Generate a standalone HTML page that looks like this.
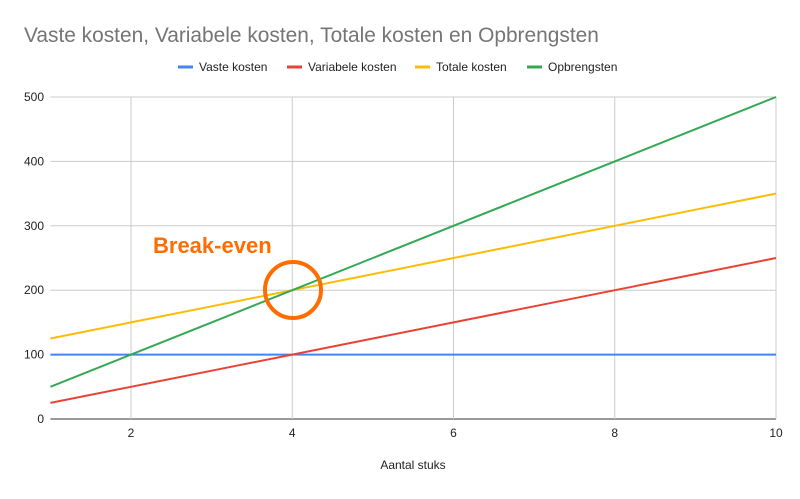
<!DOCTYPE html>
<html><head><meta charset="utf-8"><style>
body{margin:0;background:#fff;font-family:"Liberation Sans",Arial,sans-serif}
</style></head><body>
<svg id="chart" width="800" height="494" xmlns="http://www.w3.org/2000/svg">
<rect width="800" height="494" fill="#fff"/>
<text x="24" y="42" font-size="20.9" fill="#757575">Vaste kosten, Variabele kosten, Totale kosten en Opbrengsten</text>
<g id="legend"></g>
<g id="grid"></g>
<g id="axes"></g>
<g id="series"></g>
<text x="413" y="469" font-size="12" fill="#222" text-anchor="middle">Aantal stuks</text>
<text x="153" y="253" font-size="22" font-weight="bold" fill="#ff6d01">Break-even</text>
<circle cx="293" cy="290" r="28" fill="none" stroke="#ff6d01" stroke-width="4"/>
</svg>
<script>
const xValues=[1,2,3,4,5,6,7,8,9,10];
const vasteKosten=[100,100,100,100,100,100,100,100,100,100];
const variabeleKosten=[25,50,75,100,125,150,175,200,225,250];
const totaleKosten=[125,150,175,200,225,250,275,300,325,350];
const opbrengsten=[50,100,150,200,250,300,350,400,450,500];
const xTicks=[2,4,6,8,10];
const yTicks=[0,100,200,300,400,500];
const seriesNames=["Vaste kosten","Variabele kosten","Totale kosten","Opbrengsten"];
const seriesColors=["#4285f4","#ea4335","#fbbc04","#34a853"];
const NS="http://www.w3.org/2000/svg";
const X0=50.4,X1=776,Y0=419,Y1=97;
const sx=v=>X0+(v-1)*(X1-X0)/9;
const sy=v=>Y0-v*(Y0-Y1)/500;
function mk(tag,attrs,parent){const e=document.createElementNS(NS,tag);for(const k in attrs)e.setAttribute(k,attrs[k]);parent.appendChild(e);return e;}
const grid=document.getElementById('grid'),axes=document.getElementById('axes'),series=document.getElementById('series'),legend=document.getElementById('legend');
yTicks.forEach(t=>{
 const l=mk('line',{x1:X0,x2:X1,y1:sy(t),y2:sy(t),stroke:t===0?'#333':'#ccc','stroke-width':1},grid);
 
 
 const tx=mk('text',{x:44,y:sy(t)+4,'font-size':12,fill:'#222','text-anchor':'end'},axes);
 tx.textContent=t;
 
 
});
xTicks.forEach(t=>{
 const l=mk('line',{x1:sx(t),x2:sx(t),y1:Y1,y2:Y0,stroke:'#ccc','stroke-width':1},grid);
 
 
 const tx=mk('text',{x:sx(t),y:437,'font-size':12,fill:'#222','text-anchor':'middle'},axes);
 tx.textContent=t;
 
 
});
[vasteKosten,variabeleKosten,totaleKosten,opbrengsten].forEach((arr,i)=>{
 const p=mk('polyline',{points:arr.map((v,j)=>sx(xValues[j])+','+sy(v)).join(' '),fill:'none',stroke:seriesColors[i],'stroke-width':2},series);
 
 
});
const legX=[178,287,415,527];
seriesNames.forEach((n,i)=>{
 const g=mk('g',{},legend);
 
 
 mk('line',{x1:legX[i],x2:legX[i]+15,y1:67,y2:67,stroke:seriesColors[i],'stroke-width':3},g);
 const t=mk('text',{x:legX[i]+21,y:71,'font-size':12,fill:'#222'},g);
 t.textContent=n;
});
</script>
</body></html>
